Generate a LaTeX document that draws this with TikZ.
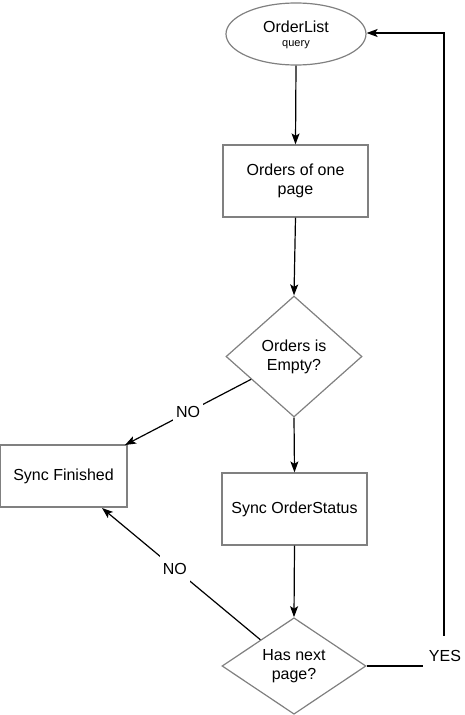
\documentclass[tikz,border=0pt]{standalone}
\usepackage{fontspec}
\setmainfont{Liberation Sans}
\usetikzlibrary{arrows.meta,shapes.geometric}
\definecolor{edgegray}{HTML}{808080}
\begin{document}
\begin{tikzpicture}[x=1pt,y=-1pt,
  txt/.style={font=\fontsize{16}{19}\selectfont, align=center},
  boxnode/.style={draw=edgegray, line width=1.2pt, rectangle, inner sep=0pt, txt},
  ellnode/.style={draw=edgegray, line width=1.2pt, ellipse, inner sep=0pt, txt},
  decnode/.style={draw=edgegray, line width=1.2pt, diamond, inner sep=0pt, txt},
  conn/.style={draw=black, line width=1.2pt, -{Stealth[length=11pt,width=8pt,inset=2.5pt]}},
  lbl/.style={fill=white, inner sep=3pt, minimum height=30pt, txt}]
\useasboundingbox (0,0) rectangle (465,715);
\node[ellnode, minimum width=140, minimum height=62] (start) at (296,34) {};
\node[txt] (t1) at (296,27) {OrderList};
\node[font=\fontsize{11}{13}\selectfont] (t2) at (296,45) {query};
\node[boxnode, minimum width=145, minimum height=72] (page) at (295.5,181) {Orders of one\\page};
\node[decnode, minimum width=136, minimum height=121] (empty) at (294,356.5) {Orders is\\Empty?};
\node[boxnode, minimum width=127, minimum height=62] (fin) at (63.5,476) {Sync Finished};
\node[boxnode, minimum width=145, minimum height=72] (sync) at (294.5,509) {Sync OrderStatus};
\node[decnode, minimum width=144, minimum height=96] (next) at (294,666) {Has next\\page?};
\coordinate (c1) at (444,666);
\coordinate (c2) at (444,33);
\draw[conn] (start.south) -- (page.north);
\draw[conn] (page.south) -- (empty.north);
\draw[conn] (empty.south) -- (sync.north);
\draw[conn] (sync.south) -- (next.north);
\draw[conn] (empty.-152) -- node[lbl, pos=0.5] {NO} (125,445);
\draw[conn] (next.142) -- node[lbl, pos=0.54] {NO} (102,508);
\draw[conn] (next.east) -- (c1) -- (c2) -- (start.east |- c2);
\node[lbl, minimum width=44pt, minimum height=40pt] (yes) at (445,656) {YES};
\end{tikzpicture}
\end{document}
